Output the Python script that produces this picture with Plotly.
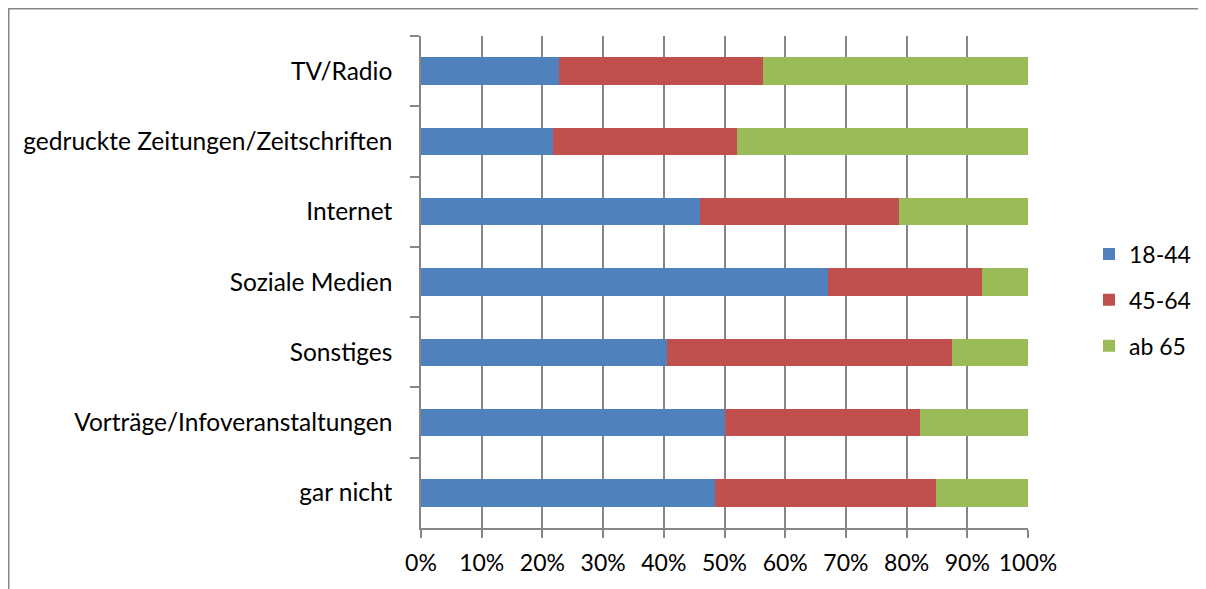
import plotly.graph_objects as go

categories = ["TV/Radio", "gedruckte Zeitungen/Zeitschriften", "Internet", "Soziale Medien",
              "Sonstiges", "Vorträge/Infoveranstaltungen", "gar nicht"]
series_names = ["18-44", "45-64", "ab 65"]
v_18_44 = [22.8, 21.8, 46.0, 67.1, 40.6, 50.0, 48.5]
v_45_64 = [33.5, 30.3, 32.7, 25.3, 46.9, 32.2, 36.4]
v_ab_65 = [43.7, 47.9, 21.3, 7.6, 12.5, 17.8, 15.1]
tick_vals = [0, 10, 20, 30, 40, 50, 60, 70, 80, 90, 100]
tick_text = ["0%", "10%", "20%", "30%", "40%", "50%", "60%", "70%", "80%", "90%", "100%"]
colors = ["#4F81BD", "#C0504D", "#9BBB59"]

# page body has an 8px margin, so figure coords = page coords - 8
OFF = 8
W, H = 1206 - OFF, 589 - OFF
L, R, T, B = 421 - OFF, 1028 - OFF, 36 - OFF, 528 - OFF

fig = go.Figure()
for name, vals, col in zip(series_names, [v_18_44, v_45_64, v_ab_65], colors):
    fig.add_trace(go.Bar(
        y=categories, x=vals, name=name, orientation="h",
        marker=dict(color=col, line=dict(width=0)),
        legendgroup=name,
    ))

font = dict(family="Lato, Liberation Sans, sans-serif", size=23, color="#000000")
yfont = dict(family="Lato, Liberation Sans, sans-serif", size=24.5, color="#000000")
grid = "#868686"

def px2paper_x(px):
    return (px - L) / (R - L)

def px2paper_y(py):
    return (B - py) / (B - T)

fig.update_layout(
    width=W, height=H,
    margin=dict(l=L, r=W - R, t=T, b=H - B, pad=0, autoexpand=False),
    barmode="stack", barnorm="percent", bargap=0.61,
    plot_bgcolor="white", paper_bgcolor="white",
    font=font,
    showlegend=True,
    legend=dict(x=px2paper_x(1081), y=px2paper_y(300 - OFF), xanchor="left", yanchor="middle",
                traceorder="grouped", tracegroupgap=13, font=font,
                itemwidth=30, bgcolor="rgba(0,0,0,0)"),
    xaxis=dict(range=[0, 100], tickvals=tick_vals, ticktext=tick_text,
               showgrid=True, gridcolor=grid, gridwidth=1.5,
               showline=True, linecolor=grid, linewidth=1.5,
               ticks="outside", ticklen=8, tickcolor=grid, tickwidth=1.5,
               zeroline=False, tickfont=font, ticklabelstandoff=6, automargin=False),
    yaxis=dict(autorange="reversed", type="category",
               showgrid=False, showline=True, linecolor=grid, linewidth=1.5,
               ticks="outside", ticklen=9, tickcolor=grid, tickwidth=1.5,
               tickson="boundaries", tickfont=yfont, ticklabelstandoff=22, automargin=False),
    shapes=[dict(type="rect", xref="paper", yref="paper",
                 x0=px2paper_x(0.75), x1=px2paper_x(W + 10),
                 y0=px2paper_y(H + 10), y1=px2paper_y(0.75),
                 line=dict(color=grid, width=1.5), fillcolor="rgba(0,0,0,0)", layer="below")],
)

fig.write_html("out.html")
